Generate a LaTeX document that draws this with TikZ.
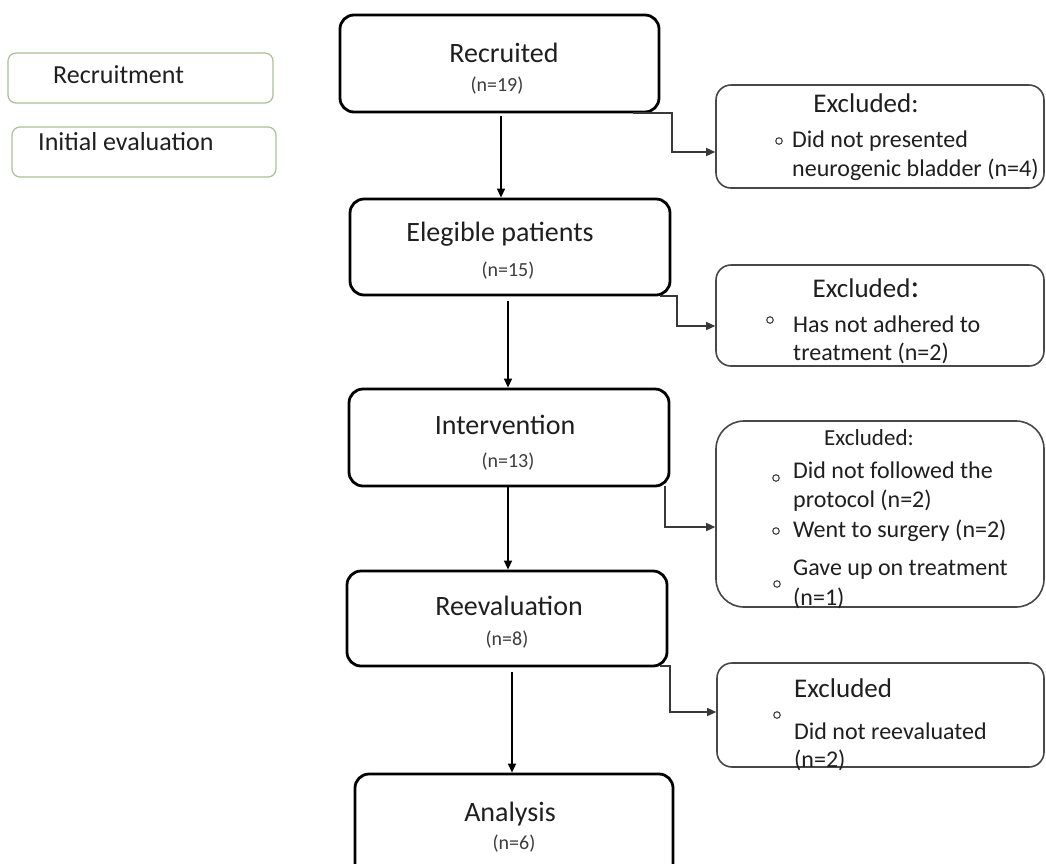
\documentclass[tikz,border=0pt]{standalone}
\usepackage{fontspec}
\setmainfont{Carlito}
\usetikzlibrary{arrows.meta}
\definecolor{lgreen}{RGB}{170,192,150}
\definecolor{txtgray}{RGB}{60,60,60}
\begin{document}
\begin{tikzpicture}[x=1pt,y=-1pt,
  mainbox/.style={draw=black, line width=2.8pt, rounded corners=14pt, inner sep=0pt},
  exbox/.style={draw=black!72, line width=1.6pt, rounded corners=15pt, inner sep=0pt},
  leftbox/.style={draw=lgreen, line width=1.2pt, rounded corners=8pt, inner sep=0pt},
  arr/.style={-{Triangle[length=9pt,width=8pt]}, line width=1.4pt, draw=black},
  conn/.style={-{Triangle[length=9pt,width=8pt]}, line width=1.4pt, draw=black!78},
  ttl/.style={font=\fontsize{28}{28}\selectfont, anchor=base, inner sep=0pt, text=black!88},
  nn/.style={font=\fontsize{20}{20}\selectfont, anchor=base, inner sep=0pt, text=txtgray},
  exttl/.style={font=\fontsize{27}{27}\selectfont, inner sep=0pt, text=black!88},
  item/.style={font=\fontsize{24}{24}\selectfont, anchor=base west, inner sep=0pt, text=black!88},
  lft/.style={font=\fontsize{26}{26}\selectfont, anchor=base west, inner sep=0pt, text=black!88},
  bul/.style={circle, draw=black!75, line width=1.1pt, minimum size=6.5pt, inner sep=0pt}
]
\useasboundingbox (0,0) rectangle (1046,863);
\clip (0,0) rectangle (1046,863);
\fill[white] (0,0) rectangle (1046,863);

% left legend boxes
\node[leftbox, minimum width=265pt, minimum height=50pt] (lb1) at (140.5,78) {};
\node[leftbox, minimum width=264pt, minimum height=50pt] (lb2) at (144,152) {};
\node[lft] (lt1) at (53,83) {Recruitment};
\node[lft] (lt2) at (38,150) {Initial evaluation};

% main boxes
\node[mainbox, minimum width=319pt, minimum height=97pt] (rec) at (499.5,63.5) {};
\node[mainbox, minimum width=320pt, minimum height=96pt] (eleg) at (510,247) {};
\node[mainbox, minimum width=320pt, minimum height=97pt] (intv) at (509,437.5) {};
\node[mainbox, minimum width=320pt, minimum height=95pt] (reev) at (507,618.5) {};
\node[mainbox, minimum width=318pt, minimum height=112pt] (anal) at (514,830) {};

\node[ttl] (t1) at (504,62) {Recruited};
\node[nn] (n1) at (497,91) {(n=19)};
\node[ttl] (t2) at (500,241) {Elegible patients};
\node[nn] (n2) at (508,276) {(n=15)};
\node[ttl] (t3) at (505,434) {Intervention};
\node[nn] (n3) at (508,467) {(n=13)};
\node[ttl] (t4) at (509,615) {Reevaluation};
\node[nn] (n4) at (507,645) {(n=8)};
\node[ttl] (t5) at (510,821) {Analysis};
\node[nn] (n5) at (514,849) {(n=6)};

% excluded boxes
\node[exbox, minimum width=328pt, minimum height=103pt] (ex1) at (880,136.5) {};
\node[exbox, minimum width=328pt, minimum height=101pt] (ex2) at (880,315.5) {};
\node[exbox, rounded corners=28pt, minimum width=328pt, minimum height=186pt] (ex3) at (880,514) {};
\node[exbox, minimum width=327pt, minimum height=104pt] (ex4) at (880.5,715) {};

% box 1 text
\node[exttl, anchor=base] (e1t) at (866,112) {Excluded:};
\node[bul] (b11) at (779,141) {};
\node[item] (e1a) at (792,147) {Did not presented};
\node[item] (e1b) at (792,176) {neurogenic bladder (n=4)};

% box 2 text
\node[exttl, anchor=base] (e2t) at (866,297) {Excluded\fontsize{33}{33}\selectfont:};
\node[bul] (b21) at (770,320) {};
\node[item] (e2a) at (793,332) {Has not adhered to};
\node[item] (e2b) at (793,360) {treatment (n=2)};

% box 3 text
\node[exttl, anchor=base, font=\fontsize{23}{23}\selectfont] (e3t) at (869,445) {Excluded:};
\node[bul] (b31) at (776,478) {};
\node[item] (e3a) at (793,478) {Did not followed the};
\node[item] (e3b) at (793,507) {protocol (n=2)};
\node[bul] (b32) at (776,531) {};
\node[item] (e3c) at (793,537) {Went to surgery (n=2)};
\node[item] (e3d) at (793,575) {Gave up on treatment};
\node[bul] (b33) at (777,584) {};
\node[item] (e3e) at (793,605) {(n=1)};

% box 4 text
\node[exttl, anchor=base west] (e4t) at (794,697) {Excluded};
\node[bul] (b41) at (777,715) {};
\node[item] (e4a) at (794,739) {Did not reevaluated};
\node[item] (e4b) at (794,767) {(n=2)};

% vertical arrows
\coordinate (x1) at (501,0);
\coordinate (x2) at (508,0);
\coordinate (x3) at (508,0);
\coordinate (x4) at (512,0);
\draw[arr] ([yshift=-3pt]rec.south -| x1) -- (eleg.north -| x1);
\draw[arr] ([yshift=-5pt]eleg.south -| x2) -- (intv.north -| x2);
\draw[arr] (intv.south -| x3) -- (reev.north -| x3);
\draw[arr] ([yshift=-5pt]reev.south -| x4) -- (anal.north -| x4);

% side connectors
\coordinate (k1a) at (633,113);
\coordinate (k1b) at (672,152);
\draw[conn] (k1a) -| (k1b) -- (k1b -| ex1.west);
\coordinate (k2a) at (660,296);
\coordinate (k2b) at (677,326);
\draw[conn] (k2a) -| (k2b) -- (k2b -| ex2.west);
\coordinate (k3a) at (665,486);
\coordinate (k3b) at (665,527);
\draw[conn] (k3a) -- (k3b) -- (k3b -| ex3.west);
\coordinate (k4a) at (660,666);
\coordinate (k4b) at (670,712);
\draw[conn] (k4a) -| (k4b) -- (k4b -| ex4.west);
\end{tikzpicture}
\end{document}
